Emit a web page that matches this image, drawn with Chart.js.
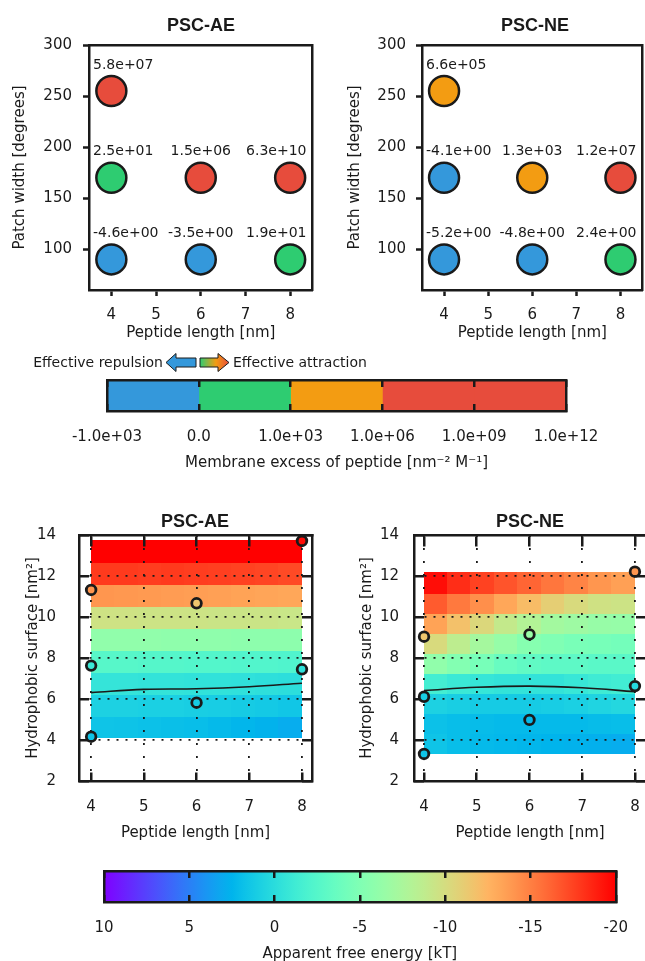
<!DOCTYPE html>
<html>
<head>
<meta charset="utf-8">
<script src="https://cdn.jsdelivr.net/npm/chart.js@4.4.1/dist/chart.umd.min.js"></script>
<style>
    html, body { margin: 0; padding: 0; background: #fff; overflow: hidden; }
    body { position: relative; width: 645px; height: 961px; font-family: 'DejaVu Sans', sans-serif; color: #1a1a1a; }
    canvas { position: absolute; }
    .ttl { position: absolute; width: 200px; text-align: center; font: bold 18px 'Liberation Sans', Arial, sans-serif; line-height: 22px; }
    .leg { position: absolute; font-size: 14px; line-height: 20px; white-space: nowrap; }
</style>
</head>
<body>
<canvas id="topAE" width="330" height="345" style="left:0;top:0"></canvas>
<canvas id="topNE" width="330" height="345" style="left:330px;top:0"></canvas>
<canvas id="excessBar" width="645" height="120" style="left:0;top:360px"></canvas>
<canvas id="heatAE" width="330" height="345" style="left:0;top:500px"></canvas>
<canvas id="heatNE" width="330" height="345" style="left:330px;top:500px"></canvas>
<canvas id="energyBar" width="645" height="115" style="left:0;top:850px"></canvas>

<div class="ttl" style="left:101px;top:14px">PSC-AE</div>
<div class="ttl" style="left:435px;top:14px">PSC-NE</div>
<div class="ttl" style="left:95px;top:510px">PSC-AE</div>
<div class="ttl" style="left:430px;top:510px">PSC-NE</div>

<div class="leg" style="right:482px;top:352px">Effective repulsion</div>
<svg style="position:absolute;left:160px;top:350px" width="75" height="25">
    <defs>
        <linearGradient id="attr" x1="0" x2="1" y1="0" y2="0">
            <stop offset="0" stop-color="#2ecc71"/>
            <stop offset="0.55" stop-color="#f39c12"/>
            <stop offset="1" stop-color="#e74c3c"/>
        </linearGradient>
    </defs>
    <polygon points="6,12.5 16,3.5 16,8 36,8 36,17 16,17 16,21.5" fill="#3498db" stroke="#1a1a1a" stroke-width="1"/>
    <polygon points="40,8 58,8 58,3.5 69,12.5 58,21.5 58,17 40,17" fill="url(#attr)" stroke="#1a1a1a" stroke-width="1"/>
</svg>
<div class="leg" style="left:233px;top:352px">Effective attraction</div>

<script>
// Membrane excess / free energy figure

Chart.defaults.font.family = "'DejaVu Sans', sans-serif";
Chart.defaults.font.size = 15;
Chart.defaults.color = '#1a1a1a';
const INK = '#1a1a1a';

// --- top panels: membrane excess per (peptide length, patch width)
const peptideLen = [4, 4, 6, 8, 4, 6, 8];
const patchWidth = [255, 170, 170, 170, 90, 90, 90];
const excessAE = [5.8e7, 2.5e1, 1.5e6, 6.3e10, -4.6, -3.5, 1.9e1];
const excessNE = [6.6e5, -4.1, 1.3e3, 1.2e7, -5.2, -4.8, 2.4];
const lengthTicks = [4, 5, 6, 7, 8];
const patchTicks = [100, 150, 200, 250, 300];

// --- excess colour bar
const excessBounds = [-1e3, 0, 1e3, 1e6, 1e9, 1e12];
const excessTickLabels = ['-1.0e+03', '0.0', '1.0e+03', '1.0e+06', '1.0e+09', '1.0e+12'];
const excessColors = ['#3498db', '#2ecc71', '#f39c12', '#e74c3c', '#e74c3c'];

// --- bottom heat maps: apparent free energy [kT]
const cellEdgesX = [4.0, 4.44, 4.89, 5.33, 5.78, 6.22, 6.67, 7.11, 7.56, 8.0];
const rowEdgesAE = [4.10, 5.17, 6.24, 7.31, 8.38, 9.45, 10.52, 11.59, 12.66, 13.73];
const rowEdgesNE = [3.33, 4.31, 5.29, 6.27, 7.25, 8.23, 9.21, 10.19, 11.17, 12.15];

// rows from bottom to top, columns left to right
const energyAE = [
    [1.6, 1.7, 1.8, 1.9, 2.0, 2.2, 2.4, 2.6, 2.9],
    [0.8, 0.8, 0.9, 0.9, 1.0, 1.1, 1.2, 1.3, 1.5],
    [-0.6, -0.6, -0.5, -0.5, -0.4, -0.4, -0.3, -0.2, -0.1],
    [-2.6, -2.6, -2.5, -2.5, -2.4, -2.4, -2.3, -2.3, -2.2],
    [-6.0, -6.0, -6.0, -5.9, -5.9, -5.9, -5.8, -5.8, -5.8],
    [-9.6, -9.6, -9.5, -9.5, -9.5, -9.4, -9.4, -9.4, -9.3],
    [-14.0, -13.9, -13.8, -13.7, -13.6, -13.5, -13.4, -13.3, -13.2],
    [-17.8, -17.8, -17.7, -17.8, -17.7, -17.6, -17.5, -17.4, -17.2],
    [-20, -20, -20, -20, -20, -20, -20, -20, -20]
];
const energyNE = [
    [1.6, 2.0, 2.2, 2.3, 2.4, 2.5, 2.6, 2.7, 2.9],
    [1.8, 2.0, 2.1, 2.2, 2.2, 2.2, 2.2, 2.1, 2.0],
    [0.8, 1.0, 1.2, 1.2, 1.2, 1.1, 0.9, 0.6, 0.4],
    [-1.5, -1.0, -0.7, -0.5, -0.5, -0.5, -0.8, -1.2, -1.4],
    [-6.0, -5.2, -4.5, -3.6, -3.2, -3.0, -3.0, -2.8, -2.8],
    [-10.2, -8.6, -7.2, -6.3, -5.4, -5.0, -4.6, -4.5, -4.3],
    [-13.4, -11.8, -10.4, -9.0, -8.0, -7.1, -6.8, -6.4, -6.3],
    [-16.5, -15.3, -14.3, -13.2, -12.1, -11.0, -10.2, -9.7, -9.5],
    [-19.5, -18.3, -17.5, -16.8, -16.1, -15.4, -14.8, -14.0, -13.5]
];

const sampleLenAE = [4, 4, 4, 6, 6, 8, 8];
const sampleSurfAE = [4.16, 7.63, 11.32, 5.82, 10.67, 7.45, 13.71];
const sampleEnergyAE = [1.6, -1.0, -14.0, 1.2, -11.5, -0.3, -19.5];
const sampleLenNE = [4, 4, 4, 6, 6, 8, 8];
const sampleSurfNE = [3.32, 6.11, 9.04, 4.98, 9.15, 6.63, 12.21];
const sampleEnergyNE = [1.6, 1.0, -11.5, 2.2, -6.5, 0.3, -14.0];

const contourX = [4, 5, 6, 7, 8];
const contourAE = [6.31, 6.47, 6.50, 6.60, 6.77];
const contourNE = [6.41, 6.57, 6.63, 6.55, 6.36];

const surfaceTicks = [2, 4, 6, 8, 10, 12, 14];
const energyTicks = [10, 5, 0, -5, -10, -15, -20];

// matplotlib "rainbow" colormap
function rainbow(t) {
    t = Math.min(1, Math.max(0, t));
    const r = Math.min(1, Math.abs(2 * t - 0.5));
    const g = Math.sin(Math.PI * t);
    const b = Math.cos(Math.PI * t / 2);
    return `rgb(${Math.round(r * 255)},${Math.round(g * 255)},${Math.round(b * 255)})`;
}
const energyColor = v => rainbow((10 - v) / 30);

function excessColor(v) {
    let i = 0;
    while (i < excessColors.length - 1 && v >= excessBounds[i + 1]) i++;
    return excessColors[i];
}

function sci(v) {
    const [m, e] = v.toExponential(1).split('e');
    const n = parseInt(e, 10);
    return m + 'e' + (n < 0 ? '-' : '+') + String(Math.abs(n)).padStart(2, '0');
}

const fixTicks = vals => scale => { scale.ticks = vals.map(v => ({ value: v })); };

// text above every circle, kept inside the axes box
function makeLabels(values) {
    return {
        id: 'valueLabels',
        afterDatasetsDraw(chart) {
            const { ctx, chartArea: a } = chart;
            const meta = chart.getDatasetMeta(0);
            ctx.save();
            ctx.font = "14px 'DejaVu Sans'";
            ctx.fillStyle = INK;
            ctx.textBaseline = 'middle';
            meta.data.forEach((pt, i) => {
                const txt = sci(values[i]);
                const w = ctx.measureText(txt).width;
                const left = Math.min(Math.max(pt.x - w / 2, a.left + 4), a.right - 6 - w);
                ctx.fillText(txt, left, pt.y - 26);
            });
            ctx.restore();
        }
    };
}

// heat map cells, painted under the grid
function makeHeatmap(values, rows) {
    return {
        id: 'heatmap',
        beforeDraw(chart) {
            const { ctx, scales: { x, y } } = chart;
            ctx.save();
            values.forEach((row, r) => {
                const yTop = Math.floor(y.getPixelForValue(rows[r + 1]));
                const yBot = Math.ceil(y.getPixelForValue(rows[r]));
                row.forEach((v, c) => {
                    const x0 = Math.floor(x.getPixelForValue(cellEdgesX[c]));
                    const x1 = Math.ceil(x.getPixelForValue(cellEdgesX[c + 1]));
                    ctx.fillStyle = energyColor(v);
                    ctx.fillRect(x0, yTop, x1 - x0, yBot - yTop);
                });
            });
            ctx.restore();
        }
    };
}

const noInteraction = {
    responsive: false,
    animation: false,
    events: []
};

function topPanel(id, values, o) {
    new Chart(document.getElementById(id), {
        type: 'scatter',
        data: {
            datasets: [{
                data: peptideLen.map((x, i) => ({ x, y: patchWidth[i] })),
                pointRadius: 15,
                pointHoverRadius: 15,
                pointBorderWidth: 2.5,
                pointBorderColor: INK,
                pointBackgroundColor: values.map(excessColor)
            }]
        },
        options: {
            ...noInteraction,
            layout: { padding: { top: 45, right: o.right, left: 0, bottom: 0 } },
            plugins: { legend: { display: false }, tooltip: { enabled: false } },
            scales: {
                x: {
                    type: 'linear', min: 3.5, max: 8.5,
                    afterBuildTicks: fixTicks(lengthTicks),
                    afterFit: s => { s.height = 55; },
                    ticks: { padding: 10, maxRotation: 0, autoSkip: false },
                    grid: { drawOnChartArea: false, tickLength: 6, tickWidth: 2.5, tickColor: INK, color: INK },
                    border: { width: 2.5, color: INK },
                    title: { display: true, text: 'Peptide length [nm]', padding: { top: 0, bottom: 3 } }
                },
                y: {
                    type: 'linear', min: 60, max: 300,
                    afterBuildTicks: fixTicks(patchTicks),
                    afterFit: s => { s.width = o.yWidth; },
                    ticks: { padding: o.tickPad },
                    grid: { drawOnChartArea: false, tickLength: 6, tickWidth: 2.5, tickColor: INK, color: INK },
                    border: { width: 2.5, color: INK },
                    title: { display: true, text: 'Patch width [degrees]', padding: { top: o.titlePad, bottom: 0 } }
                },
                x2: {
                    type: 'linear', position: 'top', min: 3.5, max: 8.5,
                    afterFit: s => { s.height = 0; },
                    ticks: { display: false }, grid: { display: false },
                    border: { width: 2.5, color: INK }
                },
                y2: {
                    type: 'linear', position: 'right', min: 60, max: 300,
                    afterFit: s => { s.width = 0; },
                    ticks: { display: false }, grid: { display: false },
                    border: { width: 2.5, color: INK }
                }
            }
        },
        plugins: [makeLabels(values)]
    });
}

function heatPanel(id, o) {
    new Chart(document.getElementById(id), {
        type: 'scatter',
        data: {
            datasets: [
                {
                    data: o.sx.map((x, i) => ({ x, y: o.sy[i] })),
                    pointRadius: 4.8,
                    pointHoverRadius: 4.8,
                    pointBorderWidth: 2.8,
                    pointBorderColor: INK,
                    pointBackgroundColor: o.se.map(energyColor)
                },
                {
                    data: contourX.map((x, i) => ({ x, y: o.contour[i] })),
                    showLine: true,
                    pointRadius: 0,
                    borderColor: INK,
                    borderWidth: 1.6,
                    tension: 0.4
                }
            ]
        },
        options: {
            ...noInteraction,
            layout: { padding: { top: 35, right: o.right, left: 0, bottom: 0 } },
            plugins: { legend: { display: false }, tooltip: { enabled: false } },
            scales: {
                x: {
                    type: 'linear', min: o.xmin, max: o.xmax,
                    afterBuildTicks: fixTicks(lengthTicks),
                    afterFit: s => { s.height = 64; },
                    ticks: { padding: 17, maxRotation: 0, autoSkip: false },
                    grid: { drawTicks: false, color: INK, lineWidth: 1.8 },
                    border: { width: 2.5, color: INK, dash: [2, 11] },
                    title: { display: true, text: 'Peptide length [nm]', padding: { top: 0, bottom: 3 } }
                },
                y: {
                    type: 'linear', min: 2, max: 14,
                    afterBuildTicks: fixTicks(surfaceTicks),
                    afterFit: s => { s.width = o.yWidth; },
                    ticks: { padding: o.tickPad },
                    grid: { drawTicks: false, color: INK, lineWidth: 1.8 },
                    border: { width: 2.5, color: INK, dash: [2, 7] },
                    title: { display: true, text: 'Hydrophobic surface [nm²]', padding: { top: o.titlePad, bottom: 0 } }
                },
                x2: {
                    type: 'linear', position: 'top', min: o.xmin, max: o.xmax,
                    afterBuildTicks: fixTicks(lengthTicks),
                    afterFit: s => { s.height = 0; },
                    ticks: { display: false },
                    grid: { drawTicks: false, color: INK, lineWidth: 2.5 },
                    border: { width: 2.5, color: INK, dash: [10, 226, 10] }
                },
                y2: {
                    type: 'linear', position: 'right', min: 2, max: 14,
                    afterBuildTicks: fixTicks(surfaceTicks),
                    afterFit: s => { s.width = 0; },
                    ticks: { display: false },
                    grid: { drawTicks: false, color: INK, lineWidth: 2.5 },
                    border: { width: 2.5, color: INK, dash: [10, o.innerW - 20, 10] }
                }
            }
        },
        plugins: [makeHeatmap(o.values, o.rows)]
    });
}

function barFrame(extraX) {
    // shared outline axes for the two colour bars
    return {
        x: Object.assign({
            type: 'linear',
            ticks: { padding: 17, maxRotation: 0, autoSkip: false },
            grid: { drawTicks: false, color: INK, lineWidth: 2.5, z: 1 },
            border: { width: 2.5, color: INK, dash: [7, 17, 7], z: 1 }
        }, extraX),
        y: {
            type: 'category',
            afterFit: s => { s.width = 0; },
            ticks: { display: false }, grid: { display: false },
            border: { width: 2.5, color: INK, z: 1 }
        },
        x2: {
            type: 'linear', position: 'top', min: 0, max: 1,
            afterFit: s => { s.height = 0; },
            ticks: { display: false }, grid: { display: false },
            border: { width: 2.5, color: INK, z: 1 }
        },
        y2: {
            type: 'linear', position: 'right', min: 0, max: 1,
            afterFit: s => { s.width = 0; },
            ticks: { display: false }, grid: { display: false },
            border: { width: 2.5, color: INK, z: 1 }
        }
    };
}

topPanel('topAE', excessAE, { right: 17, yWidth: 89, tickPad: 11, titlePad: 11 });
topPanel('topNE', excessNE, { right: 14, yWidth: 92, tickPad: 10, titlePad: 16 });

heatPanel('heatAE', {
    values: energyAE, rows: rowEdgesAE,
    sx: sampleLenAE, sy: sampleSurfAE, se: sampleEnergyAE, contour: contourAE,
    xmin: 3.77, xmax: 8.19, right: 18, yWidth: 79, tickPad: 23, titlePad: 24, innerW: 233
});
heatPanel('heatNE', {
    values: energyNE, rows: rowEdgesNE,
    sx: sampleLenNE, sy: sampleSurfNE, se: sampleEnergyNE, contour: contourNE,
    xmin: 3.81, xmax: 8.21, right: 14, yWidth: 84, tickPad: 15, titlePad: 28, innerW: 232
});

// categorical excess colour bar
new Chart(document.getElementById('excessBar'), {
    type: 'bar',
    data: {
        labels: [''],
        datasets: excessColors.map((c, i) => ({
            data: [[i, i + 1]],
            backgroundColor: c,
            borderWidth: 0,
            grouped: false,
            barPercentage: 1,
            categoryPercentage: 1
        }))
    },
    options: {
        ...noInteraction,
        indexAxis: 'y',
        layout: { padding: { left: 107, right: 79, top: 20, bottom: 0 } },
        plugins: { legend: { display: false }, tooltip: { enabled: false } },
        scales: barFrame({
            min: 0, max: excessTickLabels.length - 1,
            afterBuildTicks: fixTicks(excessTickLabels.map((_, i) => i)),
            afterFit: s => { s.height = 69; },
            ticks: { padding: 17, maxRotation: 0, autoSkip: false, callback: (v, i) => excessTickLabels[i] },
            title: { display: true, text: 'Membrane excess of peptide [nm⁻² M⁻¹]', padding: { top: 0, bottom: 8 } }
        })
    }
});

// continuous free energy colour bar
new Chart(document.getElementById('energyBar'), {
    type: 'bar',
    data: {
        labels: [''],
        datasets: [{
            data: [[energyTicks[energyTicks.length - 1], energyTicks[0]]],
            backgroundColor: ctx => {
                const area = ctx.chart.chartArea;
                if (!area) return 'transparent';
                const g = ctx.chart.ctx.createLinearGradient(area.left, 0, area.right, 0);
                for (let i = 0; i <= 40; i++) g.addColorStop(i / 40, rainbow(i / 40));
                return g;
            },
            borderWidth: 0,
            barPercentage: 1,
            categoryPercentage: 1
        }]
    },
    options: {
        ...noInteraction,
        indexAxis: 'y',
        layout: { padding: { left: 104, right: 24, top: 21, bottom: 0 } },
        plugins: { legend: { display: false }, tooltip: { enabled: false } },
        scales: barFrame({
            min: -20, max: 10, reverse: true,
            afterBuildTicks: fixTicks(energyTicks),
            afterFit: s => { s.height = 63; },
            title: { display: true, text: 'Apparent free energy [kT]', padding: { top: 0, bottom: 2 } }
        })
    }
});
</script>
</body>
</html>
